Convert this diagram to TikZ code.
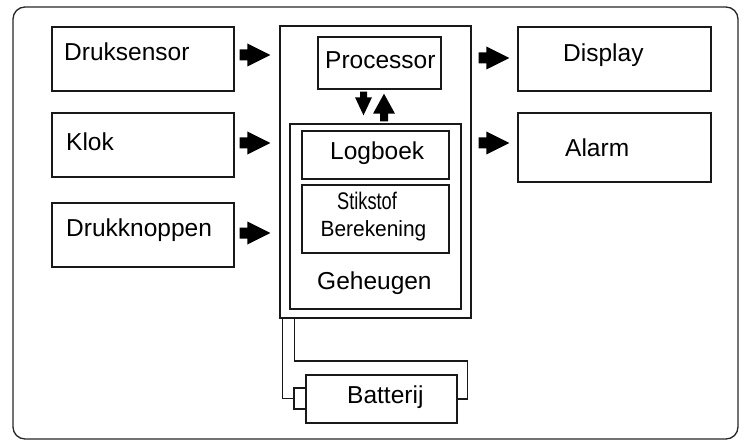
\documentclass[tikz,border=0pt]{standalone}
\usepackage{fontspec}
\setmainfont{Liberation Sans}
\usepackage{graphicx}
\usetikzlibrary{calc}
\begin{document}
\begin{tikzpicture}[x=1pt,y=-1pt,
  box/.style={draw=black!90, line width=1.4pt, inner sep=0pt, rectangle},
  lbl/.style={inner sep=0pt, anchor=base west, font=\fontsize{24.5}{28}\selectfont},
  fatarrow/.style n args={3}{fill=black, draw=none, to path={
    ($(\tikztotarget)!#1!(\tikztostart)$) coordinate (fah)
    ($(\tikztostart)!#2!90:(\tikztotarget)$) -- ($(fah)!#2!90:(\tikztotarget)$)
    -- ($(fah)!#3!90:(\tikztotarget)$) -- (\tikztotarget)
    -- ($(fah)!#3!-90:(\tikztotarget)$) -- ($(fah)!#2!-90:(\tikztotarget)$)
    -- ($(\tikztostart)!#2!-90:(\tikztotarget)$) -- cycle}},
  fat/.style={fatarrow={23pt}{5.5pt}{11.5pt}},
  fatd/.style={fatarrow={18pt}{3.5pt}{8.5pt}},
  fatu/.style={fatarrow={20pt}{4pt}{11pt}},
  wire/.style={draw=black!90, line width=1.4pt}]
\useasboundingbox (0,0) rectangle (744,441);
\draw[black!85, line width=1.3pt, rounded corners=12pt] (13,7) rectangle (738,439);

% boxes
\node[box, minimum width=182pt, minimum height=64pt] (ds) at (143,59) {};
\node[box, minimum width=182pt, minimum height=64pt] (klok) at (143,145) {};
\node[box, minimum width=182pt, minimum height=64pt] (dk) at (143,235) {};
\node[box, minimum width=191pt, minimum height=292pt] (cpu) at (375.5,172) {};
\node[box, minimum width=123pt, minimum height=52pt] (proc) at (379.5,63) {};
\node[box, minimum width=171pt, minimum height=185pt] (mem) at (375.5,216.5) {};
\node[box, minimum width=147pt, minimum height=48pt] (log) at (375.5,155) {};
\node[box, minimum width=147pt, minimum height=68pt] (stik) at (375.5,219) {};
\node[box, minimum width=193pt, minimum height=64pt] (disp) at (614.5,59) {};
\node[box, minimum width=193pt, minimum height=69pt] (alarm) at (614.5,147.5) {};
\node[box, minimum width=151pt, minimum height=48pt] (batt) at (381.5,399) {};
\node[box, minimum width=12pt, minimum height=21pt] (term) at (300,398.5) {};

% labels
\node[lbl] (tds) at (64,61) {Druksensor};
\node[lbl] (tklok) at (66,150) {Klok};
\node[lbl] (tdk) at (66,236) {Drukknoppen};
\node[lbl] (tproc) at (325,69) {Processor};
\node[lbl] (tdisp) at (563,62) {Display};
\node[lbl] (talarm) at (565,157) {Alarm};
\node[lbl] (tlog) at (330,160) {Logboek};
\node[lbl, anchor=base, font=\fontsize{24}{27}\selectfont] (tstik1) at (367,209) {\scalebox{0.76}[1]{Stikstof}};
\node[lbl, anchor=base, font=\fontsize{22}{27}\selectfont] (tstik2) at (373.5,236) {\scalebox{0.95}[1]{Berekening}};
\node[lbl] (tmem) at (317,289) {Geheugen};
\node[lbl] (tbatt) at (347,403) {Batterij};

% arrow end points
\coordinate (a1) at ($(ds.east)+(5,-4)$);
\coordinate (b1) at ($(cpu.west |- ds.east)+(-9,-4)$);
\coordinate (a2) at ($(klok.east)+(5,-2)$);
\coordinate (b2) at ($(cpu.west |- klok.east)+(-9,-2)$);
\coordinate (a3) at ($(dk.east)+(5,-2)$);
\coordinate (b3) at ($(cpu.west |- dk.east)+(-9,-2)$);
\coordinate (a4) at ($(cpu.east |- disp.west)+(7,-1)$);
\coordinate (b4) at ($(disp.west)+(-8,-1)$);
\coordinate (a5) at ($(cpu.east |- alarm.west)+(7,-4.5)$);
\coordinate (b5) at ($(alarm.west)+(-8,-4.5)$);
\coordinate (a6) at ($(proc.south)+(-16,2)$);
\coordinate (b6) at ($(proc.south |- mem.north)+(-16,-8)$);
\coordinate (a7) at ($(proc.south |- mem.north)+(4.5,-2)$);
\coordinate (b7) at ($(proc.south)+(4.5,4)$);

% thick arrows
\path[fat] (a1) to (b1);
\path[fat] (a2) to (b2);
\path[fat] (a3) to (b3);
\path[fat] (a4) to (b4);
\path[fat] (a5) to (b5);
\path[fatd] (a6) to (b6);
\path[fatu] (a7) to (b7);

% battery wires
\draw[wire] ($(cpu.south west)+(3,0)$) |- (term.west);
\draw[wire] ($(cpu.south west)+(15,0)$) |- ($(batt.east)+(10,-38)$) |- (batt.east);
\end{tikzpicture}
\end{document}
